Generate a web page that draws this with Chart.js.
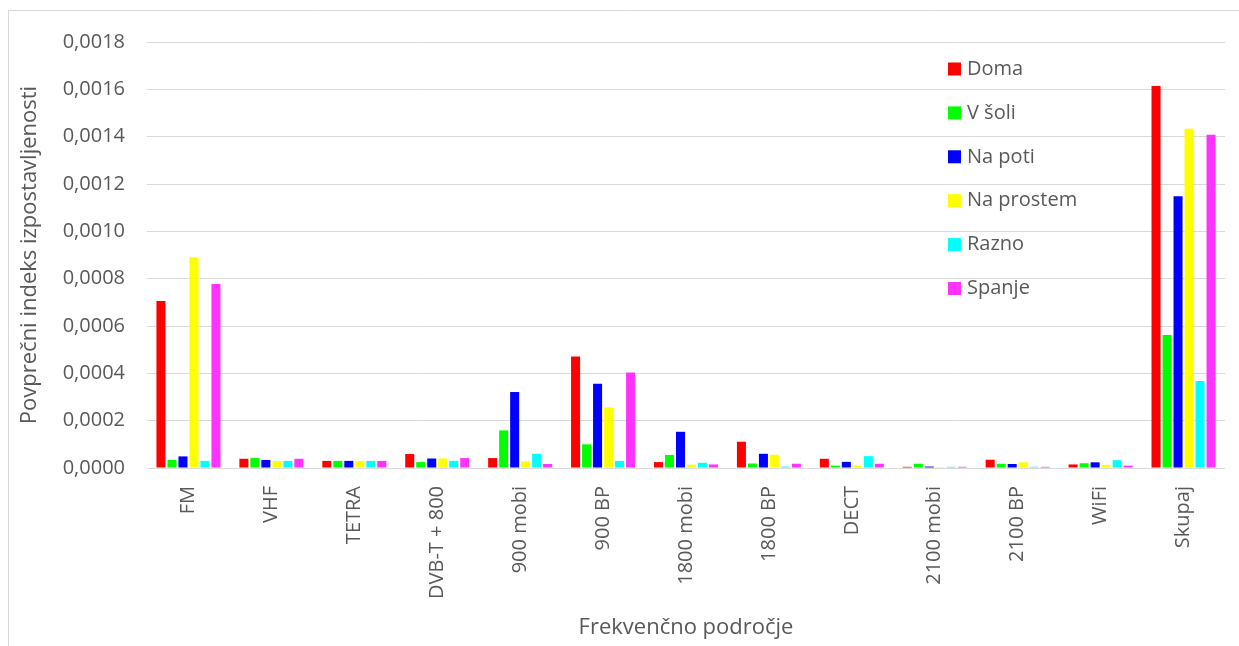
<!DOCTYPE html>
<html>
<head>
<meta charset="utf-8">
<script src="https://cdn.jsdelivr.net/npm/chart.js@4.4.1/dist/chart.umd.min.js"></script>
<style>
  html, body { margin: 0; padding: 0; background: #ffffff; }
  #wrap { position: relative; width: 1239px; height: 646px; }
</style>
</head>
<body>
<div id="wrap"><canvas id="chart" width="1239" height="646"></canvas></div>
<script>
// Frequency bands
const categories = ['FM', 'VHF', 'TETRA', 'DVB-T + 800', '900 mobi', '900 BP', '1800 mobi', '1800 BP', 'DECT', '2100 mobi', '2100 BP', 'WiFi', 'Skupaj'];

// Average exposure index per environment
const doma      = [0.000706, 0.000039, 0.000030, 0.000059, 0.000042, 0.000471, 0.000025, 0.000111, 0.000039, 0.000005, 0.000035, 0.000015, 0.001614];
const vSoli     = [0.000034, 0.000042, 0.000030, 0.000025, 0.000159, 0.000100, 0.000055, 0.000019, 0.000010, 0.000018, 0.000018, 0.000020, 0.000562];
const naPoti    = [0.000049, 0.000034, 0.000030, 0.000040, 0.000321, 0.000356, 0.000153, 0.000060, 0.000026, 0.000006, 0.000017, 0.000024, 0.001148];
const naProstem = [0.000890, 0.000030, 0.000030, 0.000040, 0.000028, 0.000256, 0.000014, 0.000056, 0.000010, 0.000004, 0.000024, 0.000013, 0.001433];
const razno     = [0.000030, 0.000030, 0.000030, 0.000030, 0.000060, 0.000030, 0.000022, 0.000006, 0.000050, 0.000005, 0.000005, 0.000033, 0.000368];
const spanje    = [0.000777, 0.000039, 0.000030, 0.000042, 0.000017, 0.000403, 0.000015, 0.000018, 0.000018, 0.000005, 0.000005, 0.000010, 0.001408];

const seriesNames = ['Doma', 'V šoli', 'Na poti', 'Na prostem', 'Razno', 'Spanje'];
const seriesColors = ['#ff0000', '#00ff00', '#0000ff', '#ffff00', '#00ffff', '#ff33ff'];
const seriesValues = [doma, vSoli, naPoti, naProstem, razno, spanje];

const yAxisTitle = 'Povprečni indeks izpostavljenosti';
const xAxisTitle = 'Frekvenčno področje';

const FONT = "'Open Sans', 'Liberation Sans', sans-serif";
const TEXT = '#595959';
const GRID = '#d9d9d9';

// Outer frame of the chart object
const framePlugin = {
  id: 'frame',
  beforeDraw(chart) {
    const ctx = chart.ctx;
    ctx.save();
    ctx.fillStyle = '#ffffff';
    ctx.fillRect(0, 0, chart.width, chart.height);
    ctx.strokeStyle = GRID;
    ctx.lineWidth = 1;
    ctx.beginPath();
    ctx.moveTo(8.5, chart.height + 2);
    ctx.lineTo(8.5, 10.5);
    ctx.lineTo(chart.width + 2, 10.5);
    ctx.stroke();
    ctx.restore();
  }
};

// Vertical legend drawn inside the plot area, top right
const insideLegend = {
  id: 'insideLegend',
  afterDraw(chart) {
    const ctx = chart.ctx;
    const area = chart.chartArea;
    const x0 = area.right - 277;
    const y0 = area.top + 27;
    const step = 43.9;
    ctx.save();
    ctx.font = '20px ' + FONT;
    ctx.textBaseline = 'middle';
    ctx.textAlign = 'left';
    chart.data.datasets.forEach((ds, i) => {
      const cy = y0 + i * step;
      ctx.fillStyle = ds.backgroundColor;
      ctx.fillRect(x0, cy - 6.5, 13, 13);
      ctx.fillStyle = TEXT;
      ctx.fillText(ds.label, x0 + 19, cy);
    });
    ctx.restore();
  }
};

const datasets = seriesNames.map((name, i) => ({
  label: name,
  data: seriesValues[i],
  backgroundColor: seriesColors[i],
  borderWidth: 0,
  categoryPercentage: 0.796,
  barPercentage: 0.82
}));

new Chart(document.getElementById('chart'), {
  type: 'bar',
  data: { labels: categories, datasets },
  options: {
    responsive: false,
    animation: false,
    layout: { padding: { left: 8, right: 14, top: 42, bottom: 0 } },
    plugins: {
      legend: { display: false },
      tooltip: { enabled: false }
    },
    scales: {
      x: {
        grid: { display: false, drawTicks: false },
        border: { display: false },
        ticks: {
          color: TEXT,
          font: { family: FONT, size: 20 },
          minRotation: 90,
          maxRotation: 90,
          padding: 18,
          autoSkip: false
        },
        title: {
          display: true,
          text: xAxisTitle,
          color: TEXT,
          font: { family: FONT, size: 22 },
          padding: { top: 0, bottom: 5 }
        },
        afterFit(scale) { scale.height = 178; }
      },
      y: {
        min: 0,
        max: 0.0018,
        grid: { color: GRID, lineWidth: 1, drawTicks: false },
        border: { display: false },
        ticks: {
          stepSize: 0.0002,
          color: TEXT,
          font: { family: FONT, size: 20 },
          padding: 22,
          callback: v => v.toFixed(4).replace('.', ',')
        },
        title: {
          display: true,
          text: yAxisTitle,
          color: TEXT,
          font: { family: FONT, size: 22 },
          padding: { top: 9, bottom: 0 }
        },
        afterFit(scale) { scale.width = 139; }
      }
    }
  },
  plugins: [framePlugin, insideLegend]
});
</script>
</body>
</html>
